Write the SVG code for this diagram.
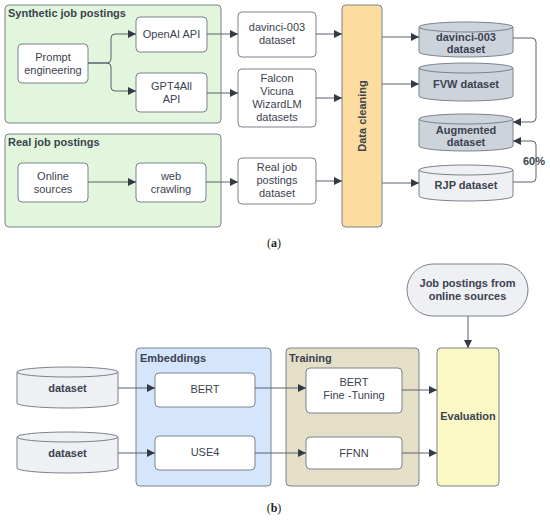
<svg xmlns="http://www.w3.org/2000/svg" width="550" height="520" viewBox="0 0 550 520">
<defs>
<marker id="arr" viewBox="0 0 10 10" refX="10" refY="5" markerWidth="8" markerHeight="8" markerUnits="userSpaceOnUse" orient="auto">
<path d="M0,0 L10,5 L0,10 z" fill="#333a45"/>
</marker>
<style>
.grp{stroke:#7a828c;stroke-width:1}
.node{fill:#ffffff;stroke:#7a828c;stroke-width:1}
.t{font-family:"Liberation Sans",Arial,sans-serif;font-size:11px;fill:#3b4250;text-anchor:middle}
.b{font-family:"Liberation Sans",Arial,sans-serif;font-size:11px;font-weight:bold;fill:#3b4250}
.bc{text-anchor:middle}
.con{fill:none;stroke:#5b626c;stroke-width:1;marker-end:url(#arr)}
.cyl{stroke:#7a828c;stroke-width:1}
.cap{font-family:"Liberation Serif","Times New Roman",serif;font-size:12px;fill:#222;text-anchor:middle}
</style>
</defs>
<rect width="550" height="520" fill="#ffffff"/>

<!-- groups (a) -->
<g id="synthetic">
<rect x="5" y="5" width="216" height="118" rx="4" fill="#e2f6dd" class="grp"/>
<text x="8" y="17" class="b" font-size="11.5">Synthetic job postings</text>
</g>
<g id="real">
<rect x="5" y="134" width="216" height="93" rx="4" fill="#e2f6dd" class="grp"/>
<text x="8" y="146" class="b" font-size="11.5">Real job postings</text>
</g>

<g id="prompt"><rect x="18" y="44" width="70" height="39" rx="4" class="node"/>
<text class="t" x="53" y="61">Prompt</text><text class="t" x="53" y="74">engineering</text></g>
<g id="openai"><rect x="136" y="17" width="71" height="35" rx="4" class="node"/>
<text class="t" x="171.5" y="38">OpenAI API</text></g>
<g id="gpt4all"><rect x="136" y="73" width="71" height="39" rx="4" class="node"/>
<text class="t" x="171.5" y="90">GPT4All</text><text class="t" x="171.5" y="103">API</text></g>
<g id="online"><rect x="18" y="163" width="70" height="39" rx="4" class="node"/>
<text class="t" x="53" y="180">Online</text><text class="t" x="53" y="193">sources</text></g>
<g id="crawl"><rect x="136" y="163" width="70" height="39" rx="4" class="node"/>
<text class="t" x="171" y="180">web</text><text class="t" x="171" y="193">crawling</text></g>

<g id="davinci-box"><rect x="238" y="12" width="78" height="45" rx="4" class="node"/>
<text class="t" x="277" y="31">davinci-003</text><text class="t" x="277" y="44">dataset</text></g>
<g id="fvw-box"><rect x="238" y="69" width="78" height="58" rx="4" class="node"/>
<text class="t" x="277" y="82">Falcon</text><text class="t" x="277" y="95">Vicuna</text><text class="t" x="277" y="108">WizardLM</text><text class="t" x="277" y="121">datasets</text></g>
<g id="rjp-box"><rect x="238" y="158" width="78" height="46" rx="4" class="node"/>
<text class="t" x="277" y="171">Real job</text><text class="t" x="277" y="184">postings</text><text class="t" x="277" y="197">dataset</text></g>

<g id="cleaning"><rect x="342" y="5" width="40" height="222" rx="4" fill="#fddca0" class="grp"/>
<text class="b bc" transform="translate(366,116) rotate(-90)" font-size="12">Data cleaning</text></g>

<g id="davinci-db">
<path d="M419,27 L419,52 A47,5 0 0 0 513,52 L513,27" fill="#cdd3db" class="cyl"/>
<ellipse cx="466" cy="27" rx="47" ry="5" fill="#cdd3db" class="cyl"/>
<text class="b bc" x="466" y="41">davinci-003</text><text class="b bc" x="466" y="53">dataset</text></g>
<g id="fvw-db">
<path d="M419,68 L419,96 A47,5 0 0 0 513,96 L513,68" fill="#cdd3db" class="cyl"/>
<ellipse cx="466" cy="68" rx="47" ry="5" fill="#cdd3db" class="cyl"/>
<text class="b bc" x="466" y="88">FVW dataset</text></g>
<g id="augmented-db">
<path d="M419,119 L419,146 A47,5 0 0 0 513,146 L513,119" fill="#cdd3db" class="cyl"/>
<ellipse cx="466" cy="119" rx="47" ry="5" fill="#cdd3db" class="cyl"/>
<text class="b bc" x="466" y="134">Augmented</text><text class="b bc" x="466" y="146">dataset</text></g>
<g id="rjp-db">
<path d="M419,170 L419,196 A47,5 0 0 0 513,196 L513,170" fill="#eef0f3" class="cyl"/>
<ellipse cx="466" cy="170" rx="47" ry="5" fill="#eef0f3" class="cyl"/>
<text class="b bc" x="466" y="189">RJP dataset</text></g>

<!-- groups (b) -->
<g id="embeddings">
<rect x="136" y="348" width="135" height="138" rx="4" fill="#d5e5fb" class="grp"/>
<text x="140" y="362" class="b" font-size="11.5">Embeddings</text>
</g>
<g id="training">
<rect x="286" y="348" width="133" height="138" rx="4" fill="#e6dfc8" class="grp"/>
<text x="289" y="362" class="b" font-size="11.5">Training</text>
</g>
<g id="bert"><rect x="155" y="373" width="100" height="34" rx="4" class="node"/>
<text class="t" x="205" y="393">BERT</text></g>
<g id="use4"><rect x="155" y="436" width="100" height="34" rx="4" class="node"/>
<text class="t" x="205" y="456">USE4</text></g>
<g id="bert-ft"><rect x="306" y="368" width="96" height="45" rx="4" class="node"/>
<text class="t" x="354" y="386">BERT</text><text class="t" x="354" y="399">Fine -Tuning</text></g>
<g id="ffnn"><rect x="306" y="437" width="96" height="32" rx="4" class="node"/>
<text class="t" x="354" y="457">FFNN</text></g>
<g id="evaluation"><rect x="437" y="348" width="62" height="138" rx="4" fill="#fcf8c6" class="grp"/>
<text class="b bc" x="468" y="420" font-size="11.5">Evaluation</text></g>
<g id="jobsrc"><rect x="407" y="264" width="121" height="52" rx="26" fill="#eef0f3" class="grp"/>
<text class="b bc" x="467.5" y="287">Job postings from</text><text class="b bc" x="467.5" y="300">online sources</text></g>

<g id="dataset1">
<path d="M17,372 L17,403 A50.5,5 0 0 0 118,403 L118,372" fill="#eef0f3" class="cyl"/>
<ellipse cx="67.5" cy="372" rx="50.5" ry="5" fill="#eef0f3" class="cyl"/>
<text class="b bc" x="67.5" y="392">dataset</text></g>
<g id="dataset2">
<path d="M17,437 L17,468 A50.5,5 0 0 0 118,468 L118,437" fill="#eef0f3" class="cyl"/>
<ellipse cx="67.5" cy="437" rx="50.5" ry="5" fill="#eef0f3" class="cyl"/>
<text class="b bc" x="67.5" y="457">dataset</text></g>

<!-- connectors -->
<g id="connectors">
<path class="con" d="M88,63 L107,63 Q111,63 111,59 L111,38 Q111,34 115,34 L136,34"/>
<path class="con" d="M88,63 L107,63 Q111,63 111,67 L111,87 Q111,91 115,91 L136,91"/>
<path class="con" d="M88,182 L136,182"/>
<path class="con" d="M207,34 L238,34"/>
<path class="con" d="M207,93 L238,93"/>
<path class="con" d="M206,182 L238,182"/>
<path class="con" d="M316,34 L342,34"/>
<path class="con" d="M316,98 L342,98"/>
<path class="con" d="M316,181 L342,181"/>
<path class="con" d="M382,37 L419,37"/>
<path class="con" d="M382,84 L419,84"/>
<path class="con" d="M382,183 L419,183"/>
<path class="con" d="M513,38 L532,38 Q536,38 536,42 L536,118 Q536,122 532,122 L513,122"/>
<path class="con" d="M513,182 L532,182 Q536,182 536,178 L536,145 Q536,141 532,141 L513,141"/>
<path class="con" d="M118,388 L155,388"/>
<path class="con" d="M118,453 L155,453"/>
<path class="con" d="M255,388 L306,388"/>
<path class="con" d="M255,453 L306,453"/>
<path class="con" d="M402,390 L437,390"/>
<path class="con" d="M402,453 L437,453"/>
<path class="con" d="M468,316 L468,348"/>
</g>
<text class="b" x="523" y="165" font-size="11">60%</text>

<text class="cap" x="274" y="247">(<tspan font-weight="bold">a</tspan>)</text>
<text class="cap" x="274" y="512">(<tspan font-weight="bold">b</tspan>)</text>
</svg>
